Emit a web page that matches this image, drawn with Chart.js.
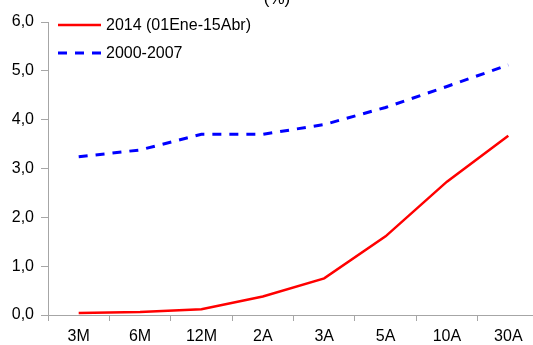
<!DOCTYPE html>
<html>
<head>
<meta charset="utf-8">
<script src="https://cdn.jsdelivr.net/npm/chart.js@4/dist/chart.umd.min.js"></script>
<style>
  html, body { margin: 0; padding: 0; background: #fff; overflow: hidden; }
  #wrap { width: 533px; height: 345px; overflow: hidden; }
  canvas { display: block; }
</style>
</head>
<body>
<div id="wrap"><canvas id="c" width="545" height="345"></canvas></div>
<script>
// Plazos de la curva
const plazos = ['3M', '6M', '12M', '2A', '3A', '5A', '10A', '30A'];
// Rendimientos promedio (%)
const serie2014 = [0.04, 0.06, 0.12, 0.38, 0.75, 1.61, 2.73, 3.67];
const serie2000_2007 = [3.24, 3.38, 3.70, 3.70, 3.90, 4.25, 4.68, 5.12];
const nombres = ['2014 (01Ene-15Abr)', '2000-2007'];
const yTicks = [0, 1, 2, 3, 4, 5, 6];

const FONT = 'Liberation Sans, Arial, sans-serif';
const GRIS = '#a6a6a6';

// Leyenda dentro del área del gráfico y título "(%)"
const decoraciones = {
  id: 'decoraciones',
  afterDraw(chart) {
    const ctx = chart.ctx;
    ctx.save();
    ctx.fillStyle = '#000';
    ctx.font = '17px ' + FONT;
    ctx.textAlign = 'center';
    ctx.textBaseline = 'alphabetic';
    ctx.fillText('(%)', 277, 4);

    const items = [
      { y: 25, color: '#ff0000', dash: [], width: 2.5 },
      { y: 53, color: '#0000ff', dash: [9, 8], width: 3 }
    ];
    ctx.font = '16px ' + FONT;
    ctx.textAlign = 'left';
    ctx.textBaseline = 'middle';
    items.forEach((it, i) => {
      ctx.beginPath();
      ctx.setLineDash(it.dash);
      ctx.lineWidth = it.width;
      ctx.strokeStyle = it.color;
      ctx.moveTo(58, it.y);
      ctx.lineTo(101, it.y);
      ctx.stroke();
      ctx.setLineDash([]);
      ctx.fillStyle = '#000';
      ctx.fillText(nombres[i], 106, it.y + 1);
    });
    ctx.restore();
  }
};

new Chart(document.getElementById('c'), {
  type: 'line',
  data: {
    labels: plazos,
    datasets: [
      {
        label: nombres[0],
        data: serie2014,
        borderColor: '#ff0000',
        borderWidth: 2.5,
        pointRadius: 0,
        tension: 0,
        fill: false
      },
      {
        label: nombres[1],
        data: serie2000_2007,
        borderColor: '#0000ff',
        borderWidth: 3,
        borderDash: [9, 8],
        pointRadius: 0,
        tension: 0,
        fill: false
      }
    ]
  },
  options: {
    responsive: false,
    animation: false,
    devicePixelRatio: 1,
    layout: { padding: { top: 22, right: 6, left: 0, bottom: 0 } },
    plugins: {
      legend: { display: false },
      tooltip: { enabled: false }
    },
    scales: {
      x: {
        type: 'category',
        offset: true,
        afterFit(s) { s.height = 30; },
        grid: {
          display: true,
          offset: true,
          drawOnChartArea: false,
          drawTicks: true,
          tickLength: 6,
          color: GRIS,
          lineWidth: 1
        },
        border: { display: true, color: GRIS, width: 1 },
        ticks: {
          color: '#000',
          font: { family: FONT, size: 16 },
          padding: 6,
          maxRotation: 0,
          autoSkip: false
        }
      },
      y: {
        min: 0,
        max: 6,
        afterFit(s) { s.width = 48; },
        afterBuildTicks(s) { s.ticks = yTicks.map(v => ({ value: v })); },
        grid: {
          display: true,
          drawOnChartArea: false,
          drawTicks: true,
          tickLength: 7,
          color: GRIS,
          lineWidth: 1
        },
        border: { display: true, color: GRIS, width: 1 },
        ticks: {
          color: '#000',
          font: { family: FONT, size: 16 },
          padding: 7,
          callback: v => v.toFixed(1).replace('.', ',')
        }
      }
    }
  },
  plugins: [decoraciones]
});
</script>
</body>
</html>
